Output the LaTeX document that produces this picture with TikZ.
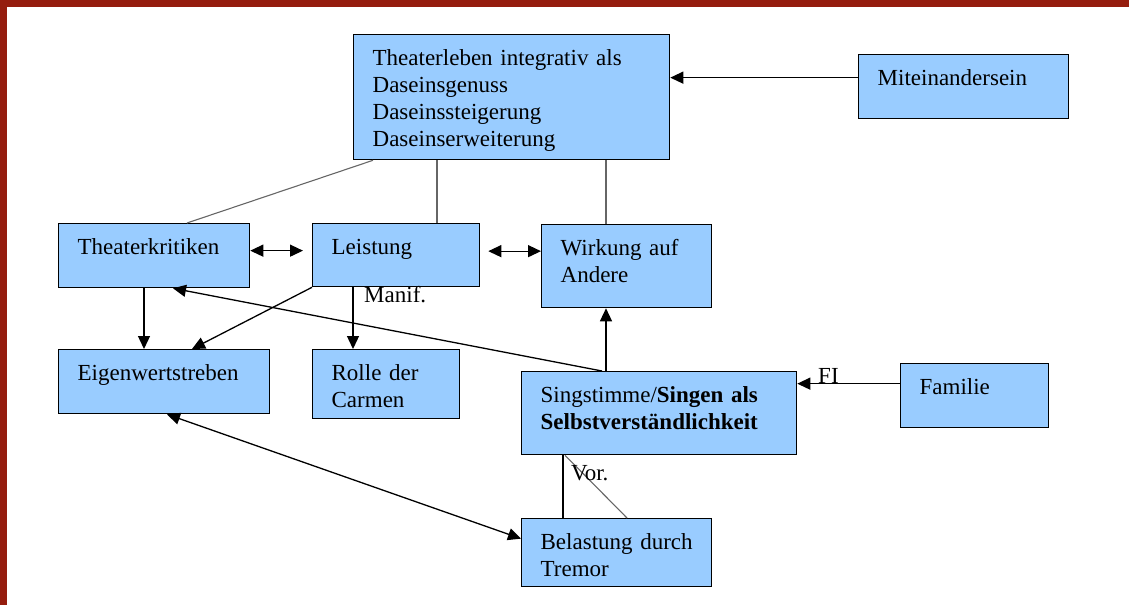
\documentclass[tikz,border=0pt]{standalone}
\usepackage{fontspec}
\setmainfont{Liberation Serif}
\usetikzlibrary{arrows.meta}
\definecolor{boxblue}{HTML}{99CCFF}
\definecolor{framered}{HTML}{951D0E}
\tikzset{
  box/.style={draw, fill=boxblue, line width=1.3pt, anchor=north west,
    inner xsep=19pt, inner ysep=0pt, align=left, text height=31pt,
    font=\fontsize{23}{27}\selectfont},
  lbl/.style={anchor=base west, inner sep=0pt, font=\fontsize{23}{27}\selectfont},
  arr/.style={-{Triangle[length=13pt,width=12pt]}, line width=1.3pt},
  darr/.style={{Triangle[length=13pt,width=12pt]}-{Triangle[length=13pt,width=12pt]}, line width=1.3pt},
  link/.style={draw=black!60, line width=1.1pt},
}
\begin{document}
\begin{tikzpicture}[x=1pt,y=-1pt]
  \useasboundingbox (0,0) rectangle (1129,605);
  \fill[framered] (0,0) rectangle (1129,7);
  \fill[framered] (0,0) rectangle (7,605);

  % boxes
  \node[box, text width=278pt, text depth=94pt] (theater) at (353,34)
    {Theaterleben~integrativ~als\\Daseinsgenuss\\Daseinssteigerung\\Daseinserweiterung};
  \node[box, text width=172pt, text depth=33pt] (mit) at (858,54) {Miteinandersein};
  \node[box, text width=153pt, text depth=33pt] (kritik) at (58,223) {Theaterkritiken};
  \node[box, text width=129pt, text depth=32pt] (leistung) at (312,223) {Leistung};
  \node[box, text width=132pt, text depth=52pt] (wirkung) at (541,224) {Wirkung~auf\\Andere};
  \node[box, text width=173pt, text depth=33pt] (eigen) at (58,349) {Eigenwertstreben};
  \node[box, text width=109pt, text depth=38pt] (rolle) at (312,349) {Rolle~der\\Carmen};
  \node[box, text width=237pt, text depth=52pt] (sing) at (521,371)
    {Singstimme/\textbf{Singen~als}\\\textbf{Selbstverständlichkeit}};
  \node[box, text width=110pt, text depth=33pt] (familie) at (900,363) {Familie};
  \node[box, text width=152pt, text depth=37pt] (belastung) at (521,518) {Belastung~durch\\Tremor};

  % connectors
  \draw[arr] ([yshift=9pt]mit.west) -- ([yshift=9pt]mit.west -| theater.east);
  \draw[link] ([xshift=20pt]theater.south west) -- ([xshift=129pt]kritik.north west);
  \draw[link] ([xshift=84pt]theater.south west) -- ([xshift=84pt]theater.south west |- leistung.north);
  \draw[link] ([xshift=253pt]theater.south west) -- ([xshift=253pt]theater.south west |- wirkung.north);
  \draw[darr] ([yshift=5pt]kritik.east) -- ([xshift=-9pt,yshift=5pt]kritik.east -| leistung.west);
  \draw[darr] ([xshift=8pt,yshift=4pt]leistung.east) -- ([yshift=4pt]leistung.east -| wirkung.west);
  \draw[arr] ([xshift=86pt]kritik.south west) -- ([xshift=86pt]kritik.south west |- eigen.north);
  \draw[arr] (leistung.south west) -- ([xshift=134pt]eigen.north west);
  \draw[arr] ([xshift=41pt]leistung.south west) -- ([xshift=41pt]leistung.south west |- rolle.north);
  \node[lbl] (manif) at (364,302) {Manif.};
  \draw[arr] ([xshift=81pt]sing.north west) -- ([xshift=115pt]kritik.south west);
  \draw[arr] ([xshift=85pt]sing.north west) -- ([xshift=85pt]sing.north west |- wirkung.south);
  \draw[arr] ([yshift=12pt]familie.west) -- ([yshift=12pt]familie.west -| sing.east);
  \node[lbl] (fi) at (818,383) {FI};
  \draw[darr] ([xshift=109pt]eigen.south west) -- ([yshift=14pt]belastung.west);
  \draw[line width=1.2pt] ([xshift=42pt]sing.south west) -- ([xshift=42pt]sing.south west |- belastung.north);
  \draw[link] ([xshift=44pt]sing.south west) -- ([xshift=106pt]belastung.north west);
  \node[lbl] (vor) at (571,480) {Vor.};
\end{tikzpicture}
\end{document}
